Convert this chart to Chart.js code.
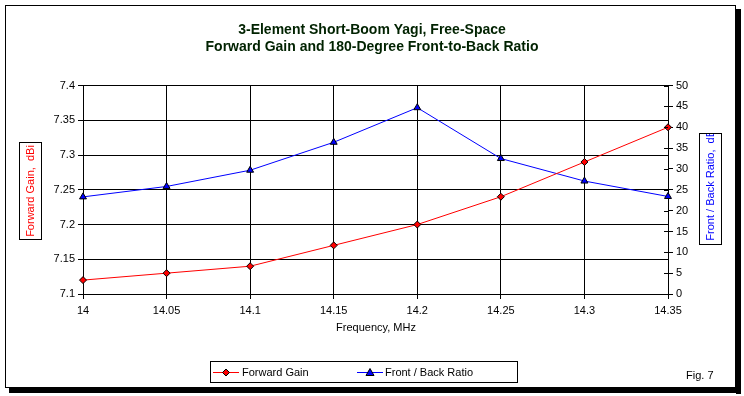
<!DOCTYPE html>
<html>
<head>
<meta charset="utf-8">
<script src="https://cdn.jsdelivr.net/npm/chart.js@4/dist/chart.umd.min.js"></script>
<style>
  html, body { margin: 0; padding: 0; background: #fff; }
  #wrap { width: 744px; height: 396px; }
</style>
</head>
<body>
<div id="wrap"><canvas id="yagiChart" width="744" height="396"></canvas></div>
<script>
const frekans = ['14', '14.05', '14.1', '14.15', '14.2', '14.25', '14.3', '14.35'];
const kazanc = [7.12, 7.13, 7.14, 7.17, 7.20, 7.24, 7.29, 7.34];
const onArka = [23.3, 25.8, 29.7, 36.4, 44.7, 32.5, 27.1, 23.4];
const baslik = ['3-Element Short-Boom Yagi, Free-Space', 'Forward Gain and 180-Degree Front-to-Back Ratio'];

const yazi = '11px "Liberation Sans", Arial, sans-serif';

// kutular, lejant, cerceve
const ekler = {
  id: 'ekler',
  beforeDraw(chart) {
    const c = chart.ctx;
    c.save();
    c.fillStyle = '#fff';
    c.fillRect(0, 0, 744, 396);
    // golge
    c.fillStyle = '#000';
    c.fillRect(736, 9, 5, 385);
    c.fillRect(9, 388, 732, 5);
    c.restore();
  },
  afterDraw(chart) {
    const c = chart.ctx;
    const ys = chart.scales.y1;
    c.save();
    c.strokeStyle = '#000';
    c.lineWidth = 1;
    c.strokeRect(5.5, 5.5, 730, 382);

    // sag eksen ic tikler
    ys.ticks.forEach((t, i) => {
      const py = Math.round(ys.getPixelForTick(i)) + 0.5;
      c.beginPath();
      c.moveTo(ys.left - 4, py);
      c.lineTo(ys.left, py);
      c.stroke();
    });

    // eksen basliklari
    c.font = yazi;
    c.textAlign = 'center';
    c.textBaseline = 'middle';
    c.strokeRect(19.5, 142.5, 22, 97);
    c.save();
    c.translate(31, 191);
    c.rotate(-Math.PI / 2);
    c.fillStyle = '#f00';
    c.fillText('Forward Gain,  dBi', 0, 0);
    c.restore();

    c.strokeRect(699.5, 133.5, 22, 111);
    c.save();
    c.beginPath();
    c.rect(700, 134, 21, 110);
    c.clip();
    c.translate(711, 186);
    c.rotate(-Math.PI / 2);
    c.fillStyle = '#00f';
    c.textAlign = 'right';
    c.fillText('Front / Back Ratio,  dB', 56, 0);
    c.restore();

    c.fillStyle = '#000';
    c.fillText('Frequency, MHz', 376, 328);

    // lejant
    c.strokeRect(210.5, 361.5, 307, 21);
    const ly = 372.5;
    c.strokeStyle = '#f00';
    c.beginPath(); c.moveTo(213, ly); c.lineTo(239, ly); c.stroke();
    c.fillStyle = '#f00';
    c.strokeStyle = '#000';
    c.beginPath();
    c.moveTo(226, ly - 3.5); c.lineTo(229.5, ly); c.lineTo(226, ly + 3.5); c.lineTo(222.5, ly); c.closePath();
    c.fill(); c.stroke();
    c.strokeStyle = '#00f';
    c.beginPath(); c.moveTo(357, ly); c.lineTo(383, ly); c.stroke();
    c.fillStyle = '#00f';
    c.strokeStyle = '#000';
    c.beginPath();
    c.moveTo(370, ly - 4); c.lineTo(374, ly + 3); c.lineTo(366, ly + 3); c.closePath();
    c.fill(); c.stroke();
    c.fillStyle = '#000';
    c.textAlign = 'left';
    c.fillText('Forward Gain', 242, ly);
    c.fillText('Front / Back Ratio', 385, ly);

    c.fillText('Fig. 7', 686, 376);
    c.restore();
  }
};

const ctx = document.getElementById('yagiChart').getContext('2d');
new Chart(ctx, {
  type: 'line',
  data: {
    labels: frekans,
    datasets: [{
      label: 'Forward Gain',
      data: kazanc,
      yAxisID: 'y',
      borderColor: '#f00',
      borderWidth: 1,
      pointStyle: 'rectRot',
      pointRadius: 3.5,
      pointBackgroundColor: '#f00',
      pointBorderColor: '#000',
      pointBorderWidth: 1,
      tension: 0
    }, {
      label: 'Front / Back Ratio',
      data: onArka,
      yAxisID: 'y1',
      borderColor: '#00f',
      borderWidth: 1,
      pointStyle: 'triangle',
      pointRadius: 4,
      pointBackgroundColor: '#00f',
      pointBorderColor: '#000',
      pointBorderWidth: 1,
      tension: 0
    }]
  },
  options: {
    responsive: false,
    animation: false,
    devicePixelRatio: 1,
    layout: { padding: { top: 0, left: 0, right: 0, bottom: 0 } },
    plugins: {
      legend: { display: false },
      tooltip: { enabled: false },
      title: {
        display: true,
        text: baslik,
        color: '#002200',
        font: { family: '"Liberation Sans Narrow", "Arial Narrow", "Liberation Sans", sans-serif', size: 14, weight: 'bold' },
        padding: { top: 22, bottom: 30 },
        lineHeight: 1.3
      }
    },
    scales: {
      x: {
        type: 'category',
        offset: false,
        afterFit(s) { s.height = 102; },
        grid: { color: '#000', lineWidth: 1, tickLength: 5, drawOnChartArea: true },
        border: { color: '#000' },
        ticks: { color: '#000', font: { family: '"Liberation Sans", Arial, sans-serif', size: 11 }, padding: 5, maxRotation: 0, autoSkip: false }
      },
      y: {
        position: 'left',
        min: 7.1,
        max: 7.4,
        afterFit(s) { s.width = 83; },
        afterBuildTicks(s) { s.ticks = [7.1, 7.15, 7.2, 7.25, 7.3, 7.35, 7.4].map(v => ({ value: v })); },
        grid: { color: '#000', lineWidth: 1, tickLength: 5 },
        border: { color: '#000' },
        ticks: { color: '#000', font: { family: '"Liberation Sans", Arial, sans-serif', size: 11 }, padding: 3, callback: v => String(+v.toFixed(2)) }
      },
      y1: {
        position: 'right',
        min: 0,
        max: 50,
        afterFit(s) { s.width = 76; },
        grid: { drawOnChartArea: false, color: '#000', tickLength: 5 },
        border: { color: '#000' },
        ticks: { stepSize: 5, color: '#000', font: { family: '"Liberation Sans", Arial, sans-serif', size: 11 }, padding: 3 }
      }
    }
  },
  plugins: [ekler]
});
</script>
</body>
</html>
